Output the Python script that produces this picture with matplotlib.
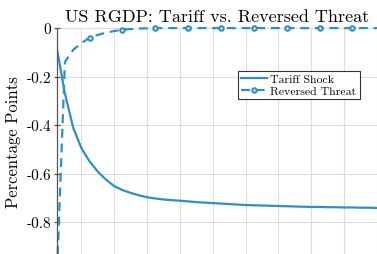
import numpy as np
import matplotlib
matplotlib.use("Agg")
import matplotlib.pyplot as plt

# quarters after the shock
quarters = list(range(1, 41))

# tariff shock response (percentage points)
tariff = [-0.08, -0.27, -0.41, -0.495, -0.55, -0.592, -0.625, -0.652, -0.668, -0.68,
          -0.69, -0.698, -0.703, -0.707, -0.71, -0.712, -0.715, -0.718, -0.72, -0.722,
          -0.724, -0.726, -0.728, -0.73, -0.731, -0.732, -0.733, -0.734, -0.735, -0.736,
          -0.737, -0.738, -0.738, -0.739, -0.739, -0.74, -0.74, -0.741, -0.741, -0.742]

# reversed threat response
reversed_threat = [-1.04, -0.14, -0.09, -0.062, -0.04, -0.028, -0.019, -0.012, -0.007, -0.004,
                   -0.002, -0.001, 0, 0, 0, 0, 0, 0, 0, 0,
                   0, 0, 0, 0, 0, 0, 0, 0, 0, 0,
                   0, 0, 0, 0, 0, 0, 0, 0, 0, 0]

xticks = list(range(4, 41, 4))
yticks = [0, -0.2, -0.4, -0.6, -0.8]
ytick_labels = ['0', '-0.2', '-0.4', '-0.6', '-0.8']

plt.rcParams['font.family'] = ['cmr10', 'DejaVu Serif']
plt.rcParams['axes.unicode_minus'] = False

blue = '#2f8fc4'

fig = plt.figure(figsize=(3.77, 2.55), dpi=100)
ax = fig.add_axes([0.1504, 0.0, 0.8496, 0.886])

ax.plot(quarters, tariff, color=blue, lw=1.6, label='Tariff Shock')
ax.plot(quarters, reversed_threat, color=blue, lw=1.6, ls='--', dashes=(4, 2.6),
        marker='o', markevery=4, markersize=3.2, markerfacecolor='white',
        markeredgewidth=1.5, clip_on=False, label='Reversed Threat')

ax.set_xlim(1, 40)
ax.set_ylim(-0.932, 0)
ax.set_xticks(xticks)
ax.set_yticks(yticks)
ax.set_yticklabels(ytick_labels)
ax.tick_params(axis='x', bottom=False, labelbottom=False)
ax.tick_params(axis='y', direction='inout', length=4, width=0.8, color='#444444',
               labelsize=11, pad=2)
ax.grid(True, color='#dcdcdc', lw=0.8)
ax.set_axisbelow(True)

for s in ['top', 'right', 'bottom']:
    ax.spines[s].set_visible(False)
ax.spines['left'].set_color('#555555')
ax.spines['left'].set_linewidth(0.9)

ax.set_title('US RGDP: Tariff vs. Reversed Threat', fontsize=13, pad=5)
ax.set_ylabel('Percentage Points', fontsize=12, labelpad=4)

leg = ax.legend(loc='upper left', bbox_to_anchor=(0.566, 0.81), borderaxespad=0,
                fontsize=8.5, fancybox=False, framealpha=1, edgecolor='#333333',
                handlelength=2.2, handletextpad=0.3, borderpad=0.25, labelspacing=0.15)
leg.get_frame().set_linewidth(0.8)

fig.savefig('out.png', dpi=100)
